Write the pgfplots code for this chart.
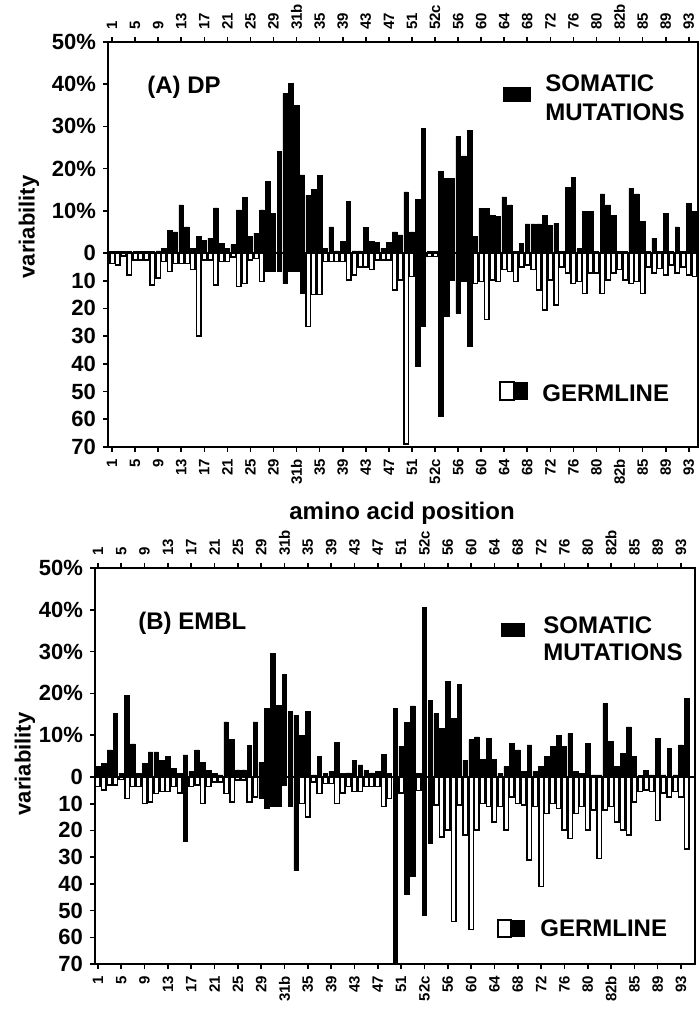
\documentclass[border=0pt]{standalone}
\usepackage{fontspec}
\setmainfont{Liberation Sans}
\usepackage{pgfplots}
\pgfplotsset{compat=1.18}
\usepackage{pgfplotstable}

% i = position index, s = somatic %, g = germline, k = 1 for the solid germline bars
\pgfplotstableread[row sep=\\]{
i s g k\\
0 0.3 3.7 0\\ 1 0.3 4.3 0\\ 2 0.3 1.0 0\\ 3 0.3 8.0 0\\ 4 0.3 2.5 0\\ 5 0.3 2.5 0\\
6 0.3 2.5 0\\ 7 0.3 11.5 0\\ 8 0.5 9.0 0\\ 9 1.0 3.0 0\\ 10 5.4 6.7 0\\ 11 5.0 3.7 0\\
12 11.4 3.7 0\\ 13 6.2 3.7 0\\ 14 1.0 6.0 0\\ 15 4.0 30.0 0\\ 16 3.0 2.5 0\\ 17 3.5 2.5 0\\
18 10.7 11.5 0\\ 19 2.3 3.0 0\\ 20 1.0 3.0 0\\ 21 2.0 1.5 0\\ 22 10.2 12.0 0\\ 23 13.2 11.0 0\\
24 4.0 2.5 0\\ 25 4.7 2.0 0\\ 26 10.2 10.3 0\\ 27 16.9 6.5 1\\ 28 9.4 6.5 1\\ 29 24.0 6.5 1\\
30 37.8 11.0 1\\ 31 40.2 6.7 1\\ 32 35.0 6.7 1\\ 33 18.5 14.5 1\\ 34 13.7 26.6 0\\ 35 15.0 15.0 0\\
36 18.3 15.0 0\\ 37 1.0 3.0 0\\ 38 6.2 3.0 0\\ 39 0.5 3.0 0\\ 40 2.7 3.0 0\\ 41 12.2 9.7 0\\
42 0.5 8.0 0\\ 43 0.5 5.0 0\\ 44 6.1 5.0 0\\ 45 2.7 6.0 0\\ 46 2.5 2.5 0\\ 47 1.1 2.5 0\\
48 2.5 2.5 0\\ 49 5.0 13.4 0\\ 50 4.3 9.7 0\\ 51 14.5 69.0 0\\ 52 5.0 8.5 0\\ 53 12.7 41.0 1\\
54 29.5 26.6 1\\ 55 0.3 1.3 0\\ 56 0.3 1.3 0\\ 57 19.3 59.0 1\\ 58 17.7 23.0 1\\ 59 17.7 9.7 1\\
60 27.6 21.8 1\\ 61 23.0 10.3 1\\ 62 29.0 33.8 1\\ 63 4.0 11.0 0\\ 64 10.6 10.3 0\\ 65 10.6 24.0 0\\
66 9.0 9.7 0\\ 67 8.6 10.3 0\\ 68 13.3 6.0 0\\ 69 11.4 6.7 0\\ 70 0.3 10.3 0\\ 71 2.3 5.0 0\\
72 6.9 4.3 0\\ 73 6.9 6.0 0\\ 74 6.9 13.4 0\\ 75 9.0 20.6 0\\ 76 6.6 9.7 0\\ 77 7.0 18.8 0\\
78 0.3 5.0 0\\ 79 15.5 7.3 0\\ 80 18.0 11.0 0\\ 81 1.0 10.3 0\\ 82 9.8 14.6 0\\ 83 9.8 7.3 0\\
84 0.3 7.3 0\\ 85 14.0 14.6 0\\ 86 11.4 9.7 0\\ 87 9.0 7.3 0\\ 88 0.3 6.0 0\\ 89 0.3 9.7 0\\
90 15.3 11.0 0\\ 91 14.0 10.3 0\\ 92 7.4 14.6 0\\ 93 0.3 5.0 0\\ 94 3.5 7.3 0\\ 95 0.3 5.5 0\\
96 9.4 8.0 0\\ 97 0.3 4.3 0\\ 98 6.2 7.3 0\\ 99 0.3 5.0 0\\ 100 11.8 8.0 0\\ 101 9.8 8.5 0\\
}\dpdata

\pgfplotstableread[row sep=\\]{
i s g k\\
0 2.5 3.6 0\\ 1 3.3 4.9 0\\ 2 6.5 3.0 0\\ 3 15.2 3.0 0\\ 4 0.9 1.0 0\\ 5 19.6 8.0 0\\
6 7.9 3.6 0\\ 7 0.9 3.6 0\\ 8 3.3 9.9 0\\ 9 6.0 9.3 0\\ 10 6.0 6.1 0\\ 11 4.0 5.5 0\\
12 4.9 5.5 0\\ 13 2.0 3.6 0\\ 14 0.9 6.0 0\\ 15 5.3 24.0 1\\ 16 1.3 3.6 0\\ 17 6.5 3.0 0\\
18 3.4 9.9 0\\ 19 1.5 3.6 0\\ 20 0.9 1.8 0\\ 21 0.5 1.8 0\\ 22 13.2 6.1 0\\ 23 9.0 9.3 0\\
24 1.7 1.1 0\\ 25 1.7 1.1 0\\ 26 7.6 9.3 0\\ 27 13.2 7.4 0\\ 28 3.4 8.0 1\\ 29 16.4 11.8 1\\
30 29.6 11.0 1\\ 31 17.2 11.0 1\\ 32 24.6 3.0 1\\ 33 15.6 11.0 1\\ 34 14.8 35.0 1\\ 35 10.0 9.9 0\\
36 15.6 15.0 0\\ 37 0.5 1.8 0\\ 38 4.9 6.1 0\\ 39 0.9 2.4 0\\ 40 1.3 2.4 0\\ 41 8.2 9.9 0\\
42 0.9 6.0 0\\ 43 1.0 3.6 0\\ 44 4.0 5.5 0\\ 45 2.9 5.5 0\\ 46 1.5 3.6 0\\ 47 1.0 3.6 0\\
48 1.3 3.6 0\\ 49 5.5 11.0 0\\ 50 0.9 8.0 0\\ 51 16.4 70.0 1\\ 52 7.3 6.0 0\\ 53 13.0 44.0 1\\
54 17.0 37.0 1\\ 55 0.9 5.0 0\\ 56 40.6 51.8 1\\ 57 18.4 24.9 1\\ 58 15.2 10.5 0\\ 59 11.6 22.4 0\\
60 22.8 19.9 0\\ 61 14.0 54.0 0\\ 62 22.2 10.5 0\\ 63 4.0 21.8 0\\ 64 8.9 57.0 0\\ 65 9.6 19.9 0\\
66 4.2 9.9 0\\ 67 9.3 11.0 0\\ 68 4.2 16.8 0\\ 69 0.9 11.0 0\\ 70 2.5 19.9 0\\ 71 8.0 7.4 0\\
72 6.5 9.9 0\\ 73 1.3 10.5 0\\ 74 7.7 31.0 0\\ 75 1.3 11.0 0\\ 76 2.5 41.0 0\\ 77 4.9 13.6 0\\
78 7.3 9.9 0\\ 79 10.0 11.8 0\\ 80 7.3 19.9 0\\ 81 10.4 23.0 0\\ 82 1.3 13.6 0\\ 83 0.9 11.0 0\\
84 8.0 19.9 0\\ 85 0.5 12.4 0\\ 86 0.5 30.5 0\\ 87 17.6 12.4 0\\ 88 8.5 11.0 0\\ 89 2.5 16.8 0\\
90 5.7 19.9 0\\ 91 12.0 21.8 0\\ 92 4.9 9.3 0\\ 93 0.3 5.5 0\\ 94 1.5 4.9 0\\ 95 0.5 5.5 0\\
96 9.3 16.2 0\\ 97 0.5 6.0 0\\ 98 6.9 7.4 0\\ 99 0.5 5.5 0\\ 100 7.7 7.4 0\\ 101 18.8 27.0 0\\
}\embldata

\pgfplotsset{
	varbase/.style={
		scale only axis,
		anchor=south west,
		axis line style={line width=1.2pt},
		tick align=outside,
		major tick length=2.5pt,
		every tick/.style={black, line width=0.8pt},
		xtick={0,4,...,100},
		xticklabels={1,5,9,13,17,21,25,29,31b,35,39,43,47,51,52c,56,60,64,68,72,76,80,82b,85,89,93},
		xticklabel style={font=\fontsize{7.5}{8}\selectfont\bfseries, rotate=90},
		yticklabel style={font=\fontsize{11}{13}\selectfont\bfseries},
		ytick pos=left,
	},
	zeroline/.style={
		extra y ticks={0},
		extra y tick labels={},
		extra y tick style={grid=major, major grid style={black, line width=1.2pt}},
	},
	sombar/.style={ybar, bar width=0.78, bar shift=0pt, fill=black, draw=black, line width=0.3pt},
	germbar/.style={ybar, bar width=0.78, bar shift=0pt, fill=white, draw=black, line width=0.75pt},
	germdark/.style={ybar, bar width=0.78, bar shift=0pt, fill=black, draw=black, line width=0.3pt},
}

\begin{document}
\begin{tikzpicture}
\useasboundingbox (0pt,0pt) rectangle (350pt,-505.5pt);

% ---------- (A) DP ----------
\begin{axis}[varbase, zeroline,
	at={(54pt,-223.5pt)}, width=295pt, height=202.5pt,
	xmin=-0.7, xmax=101.6, ymin=-45.97, ymax=50,
	ytick={-45.97,-39.40,-32.84,-26.27,-19.70,-13.13,-6.57,0,10,20,30,40,50},
	yticklabels={70,60,50,40,30,20,10,0,10\%,20\%,30\%,40\%,50\%},
	xticklabel pos=lower, xticklabel style={anchor=east},
]
	\addplot[germbar] table[x=i, y expr={-\thisrow{g}*(1-\thisrow{k})*0.6567}]{\dpdata};
	\addplot[germdark] table[x=i, y expr={-\thisrow{g}*\thisrow{k}*0.6567}]{\dpdata};
	\addplot[sombar] table[x=i, y=s]{\dpdata};
\end{axis}
\begin{axis}[varbase,
	at={(54pt,-223.5pt)}, width=295pt, height=202.5pt,
	xmin=-0.7, xmax=101.6, ymin=-45.97, ymax=50, ytick=\empty,
	xticklabel pos=upper, xticklabel style={anchor=west},
]
	\addplot[draw=none] coordinates {(0,0)};
\end{axis}

% ---------- (B) EMBL ----------
\begin{axis}[varbase, zeroline,
	at={(47.5pt,-482pt)}, width=300pt, height=198pt,
	xmin=-0.5, xmax=102.4, ymin=-44.74, ymax=50,
	ytick={-44.74,-38.35,-31.96,-25.56,-19.17,-12.78,-6.39,0,10,20,30,40,50},
	yticklabels={70,60,50,40,30,20,10,0,10\%,20\%,30\%,40\%,50\%},
	xticklabel pos=lower, xticklabel style={anchor=east},
]
	\addplot[germbar] table[x=i, y expr={-\thisrow{g}*(1-\thisrow{k})*0.6391}]{\embldata};
	\addplot[germdark] table[x=i, y expr={-\thisrow{g}*\thisrow{k}*0.6391}]{\embldata};
	\addplot[sombar] table[x=i, y=s]{\embldata};
\end{axis}
\begin{axis}[varbase,
	at={(47.5pt,-482pt)}, width=300pt, height=198pt,
	xmin=-0.5, xmax=102.4, ymin=-44.74, ymax=50, ytick=\empty,
	xticklabel pos=upper, xticklabel style={anchor=west},
]
	\addplot[draw=none] coordinates {(0,0)};
\end{axis}

% ---------- labels and legend ----------
\begin{scope}[every node/.style={font=\fontsize{12}{14}\selectfont\bfseries, inner sep=0pt}]
	\node[anchor=west] at (73.5pt,-43.5pt) {(A) DP};
	\node[anchor=west] at (69pt,-311.5pt) {(B) EMBL};
	\node[anchor=west] at (272.5pt,-41.5pt) {SOMATIC};
	\node[anchor=west] at (272.5pt,-56pt) {MUTATIONS};
	\node[anchor=west] at (271pt,-196.5pt) {GERMLINE};
	\node[anchor=west] at (271.5pt,-312.5pt) {SOMATIC};
	\node[anchor=west] at (271.5pt,-326pt) {MUTATIONS};
	\node[anchor=west] at (270pt,-464pt) {GERMLINE};
	\node at (201pt,-256.5pt) {amino acid position};
\end{scope}
\node[rotate=90, font=\fontsize{11}{12}\selectfont\bfseries] at (14.5pt,-113.5pt) {variability};
\node[rotate=90, font=\fontsize{11}{12}\selectfont\bfseries] at (12.5pt,-382pt) {variability};

\fill[black] (251.5pt,-43.5pt) rectangle (265.5pt,-51pt);
\draw[line width=0.6pt, fill=white] (250pt,-191pt) rectangle (257pt,-200pt);
\fill[black] (257pt,-191pt) rectangle (264pt,-200pt);
\fill[black] (250.5pt,-311.5pt) rectangle (262.5pt,-318.5pt);
\draw[line width=0.6pt, fill=white] (249pt,-460pt) rectangle (255.5pt,-468.5pt);
\fill[black] (255.5pt,-460pt) rectangle (262.5pt,-468.5pt);
\end{tikzpicture}
\end{document}
